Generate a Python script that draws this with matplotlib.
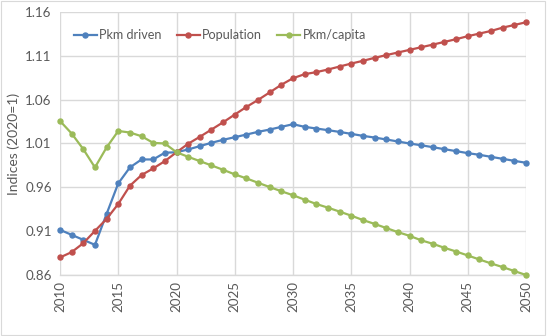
import matplotlib
matplotlib.use("Agg")
import matplotlib.pyplot as plt
from matplotlib.patches import Rectangle

years = list(range(2010, 2051))

pkm_driven = [0.9115, 0.9058, 0.9001, 0.8944, 0.9297, 0.9645, 0.9827, 0.9918, 0.9918, 0.9995,
              1.0000, 1.0032, 1.0070, 1.0108, 1.0142, 1.0172, 1.0202, 1.0233, 1.0259, 1.0290,
              1.0320, 1.0290, 1.0271, 1.0252, 1.0232, 1.0210, 1.0187, 1.0168, 1.0146, 1.0123,
              1.0100, 1.0080, 1.0058, 1.0035, 1.0013, 0.9990, 0.9971, 0.9948, 0.9925, 0.9902,
              0.9880]

population = [0.8800, 0.8861, 0.8963, 0.9103, 0.9240, 0.9410, 0.9618, 0.9740, 0.9816, 0.9899,
              1.0000, 1.0097, 1.0176, 1.0259, 1.0342, 1.0430, 1.0517, 1.0597, 1.0683, 1.0770,
              1.0845, 1.0891, 1.0914, 1.0944, 1.0978, 1.1012, 1.1043, 1.1077, 1.1108, 1.1138,
              1.1168, 1.1198, 1.1228, 1.1259, 1.1290, 1.1324, 1.1354, 1.1384, 1.1422, 1.1452,
              1.1483]

pkm_capita = [1.0357, 1.0214, 1.0035, 0.9827, 1.0055, 1.0243, 1.0225, 1.0183, 1.0107, 1.0100,
              1.0000, 0.9948, 0.9899, 0.9850, 0.9800, 0.9748, 0.9702, 0.9652, 0.9603, 0.9555,
              0.9510, 0.9459, 0.9410, 0.9368, 0.9323, 0.9277, 0.9227, 0.9183, 0.9136, 0.9089,
              0.9047, 0.8996, 0.8956, 0.8910, 0.8868, 0.8823, 0.8777, 0.8732, 0.8690, 0.8645,
              0.8600]

series_names = ["Pkm driven", "Population", "Pkm/capita"]
y_ticks = [0.86, 0.91, 0.96, 1.01, 1.06, 1.11, 1.16]
x_ticks = list(range(2010, 2051, 5))
y_label = "Indices (2020=1)"

colors = ["#4F81BD", "#C0504D", "#9BBB59"]
text_color = "#595959"
grid_color = "#D9D9D9"

plt.rcParams['font.family'] = ['Lato', 'DejaVu Sans']

fig = plt.figure(figsize=(5.47, 3.36), dpi=100)
fig.patches.append(Rectangle((0.002, 0.003), 0.995, 0.994, transform=fig.transFigure,
                             fill=False, edgecolor=grid_color, linewidth=0.8))
ax = fig.add_axes([60/547, 61/336, 466/547, 263/336])

for vals, name, c in zip([pkm_driven, population, pkm_capita], series_names, colors):
    ax.plot(years, vals, color=c, linewidth=1.6, marker='o', markersize=3.6,
            label=name, zorder=3, clip_on=False)

ax.set_xlim(2010, 2050)
ax.set_ylim(0.86, 1.16)
ax.set_yticks(y_ticks)
ax.set_yticklabels([f"{v:.2f}" for v in y_ticks])
ax.set_xticks(x_ticks)
ax.set_xticklabels([str(x) for x in x_ticks], rotation=90)
ax.tick_params(axis='both', length=0, colors=text_color, labelsize=9.6)
ax.tick_params(axis='x', pad=4)
ax.tick_params(axis='y', pad=6)
ax.grid(True, color=grid_color, linewidth=1.0, zorder=0)
ax.set_axisbelow(True)
for s in ['top', 'right', 'left']:
    ax.spines[s].set_visible(False)
ax.spines['bottom'].set_color(grid_color)
ax.spines['bottom'].set_linewidth(1.0)
ax.set_ylabel(y_label, color=text_color, fontsize=10, labelpad=4)

ax.legend(loc='center', bbox_to_anchor=(0.343, 0.912), ncol=3, frameon=False,
          fontsize=9.1, labelcolor=text_color, handlelength=1.8, columnspacing=1.2,
          handletextpad=0.2)

fig.savefig("out.png", dpi=100)
